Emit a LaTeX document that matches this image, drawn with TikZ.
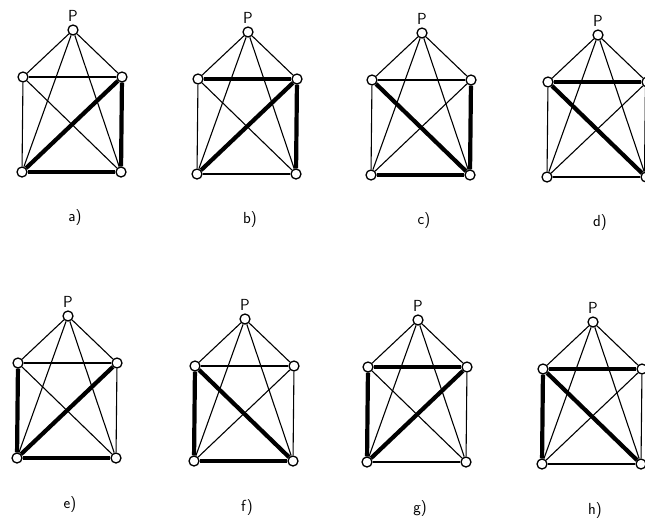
\documentclass[tikz,border=0pt]{standalone}
\usepackage{tikz}
\usetikzlibrary{positioning}
\tikzset{
  vtx/.style={circle,draw=black,fill=white,line width=1.3pt,inner sep=0pt,minimum size=10pt},
  thin/.style={draw=black,line width=1.1pt},
  hot/.style={draw=black,line width=4.2pt},
  plabel/.style={font=\sffamily\fontsize{16}{18}\selectfont,inner sep=1pt},
  caption/.style={font=\sffamily\fontsize{16}{18}\selectfont},
}

\begin{document}
\begin{tikzpicture}[x=1pt,y=-1pt]
  \useasboundingbox (0,0) rectangle (645,520);
  \foreach \n/\x/\y/\hl in {a/23/77/{BL/R,R/BR,BR/BL},b/198/79/{L/R,R/BL,R/BR},
      c/372/80/{L/BR,R/BR,BL/BR},d/548/82/{L/R,L/BR,R/BR},
      e/18/363/{L/BL,BL/R,BL/BR},f/195/366/{L/BL,L/BR,BL/BR},
      g/368/367/{L/R,L/BL,BL/R},h/543/369/{L/R,L/BL,L/BR}}{
    \node[vtx] (\n-P)  at (\x+50,\y-47) {};
    \node[vtx] (\n-L)  at (\x,\y) {};
    \node[vtx] (\n-R)  at (\x+99,\y) {};
    \node[vtx] (\n-BL) at (\x-1,\y+95) {};
    \node[vtx] (\n-BR) at (\x+98,\y+95) {};
    \node[plabel,above=2pt of \n-P] (\n-lab) {P};
    \node[caption] (\n-cap) at (\x+52,\y+141) {\n)};
    % all ten edges of the graph
    \foreach \u/\v in {P/L,P/R,P/BL,P/BR,L/R,L/BL,L/BR,R/BL,R/BR,BL/BR}{
      \draw[thin] (\n-\u) -- (\n-\v);}
    \foreach \u/\v in \hl{\draw[hot] (\n-\u) -- (\n-\v);}
  }
\end{tikzpicture}
\end{document}
